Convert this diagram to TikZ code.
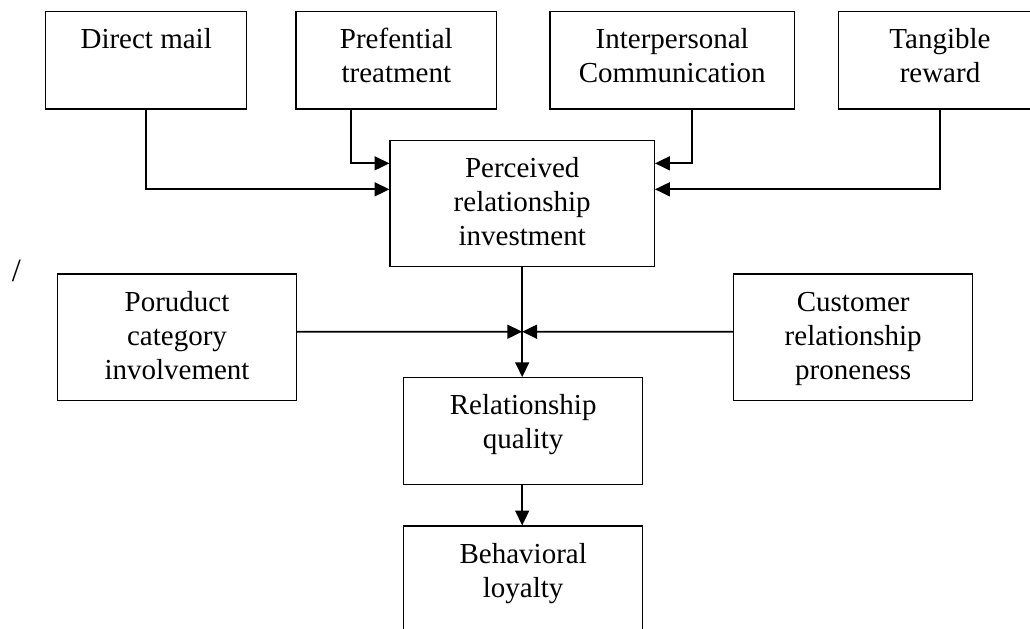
\documentclass[tikz,border=0pt]{standalone}
\usepackage{fontspec}
\setmainfont{Liberation Serif}
\usetikzlibrary{arrows.meta}

\newcommand{\boxtext}[3]{\parbox[c][#2][t]{#1}{\centering\vspace*{5.8pt}\strut #3}}

\tikzset{
	box/.style={draw, line width=0.55pt, inner sep=0pt, font=\fontsize{12.5}{14.6}\selectfont},
	arr/.style={line width=0.75pt, -{Triangle[length=6.4pt,width=6pt]}}
}

\begin{document}
\begin{tikzpicture}[x=0.431pt,y=-0.431pt]
	\clip (0,0) rectangle (1030,628);
	% top row
	\node[box] (dm) at (146.2,60.4) {\boxtext{86.6pt}{41.9pt}{Direct mail}};
	\node[box] (pt) at (396.3,60.4) {\boxtext{86.5pt}{41.9pt}{Prefential\\treatment}};
	\node[box] (ic) at (672.2,60.4) {\boxtext{105.3pt}{41.9pt}{Interpersonal\\Communication}};
	\node[box] (tr) at (940,60.4) {\boxtext{87.7pt}{41.9pt}{Tangible\\reward}};
	% middle
	\node[box] (pri) at (522.2,203.7) {\boxtext{113.9pt}{54.3pt}{Perceived\\relationship\\investment}};
	\node[box] (pci) at (177,337.2) {\boxtext{102.8pt}{54.4pt}{Poruduct\\category\\involvement}};
	\node[box] (crp) at (853.2,337.2) {\boxtext{103pt}{54.4pt}{Customer\\relationship\\proneness}};
	% bottom
	\node[box] (rq) at (523.2,431) {\boxtext{103pt}{45.9pt}{Relationship\\quality}};
	\node[box] (bl) at (523.2,579.3) {\boxtext{103pt}{45.9pt}{Behavioral\\loyalty}};
	\node[font=\fontsize{14}{16}\selectfont, inner sep=0pt] (slash) at (16.5,271) {/};

	\draw[arr] (dm.south) |- ([yshift=6.2pt]pri.west);
	\draw[arr] ([xshift=24pt]pt.south west) |- ([yshift=17.4pt]pri.west);
	\draw[arr] ([xshift=8.5pt]ic.south) |- ([yshift=17.4pt]pri.east);
	\draw[arr] (tr.south) |- ([yshift=6.2pt]pri.east);

	\path (pci.east -| pri.south) ++(0,-5.5) coordinate (j);
	\draw[arr] ([yshift=2.4pt]pci.east) -- (j);
	\draw[arr] ([yshift=2.4pt]crp.west) -- (j);
	\draw[arr] (pri.south) -- (pri.south |- rq.north);
	\draw[arr] (rq.south -| pri.south) -- (pri.south |- bl.north);
\end{tikzpicture}
\end{document}
